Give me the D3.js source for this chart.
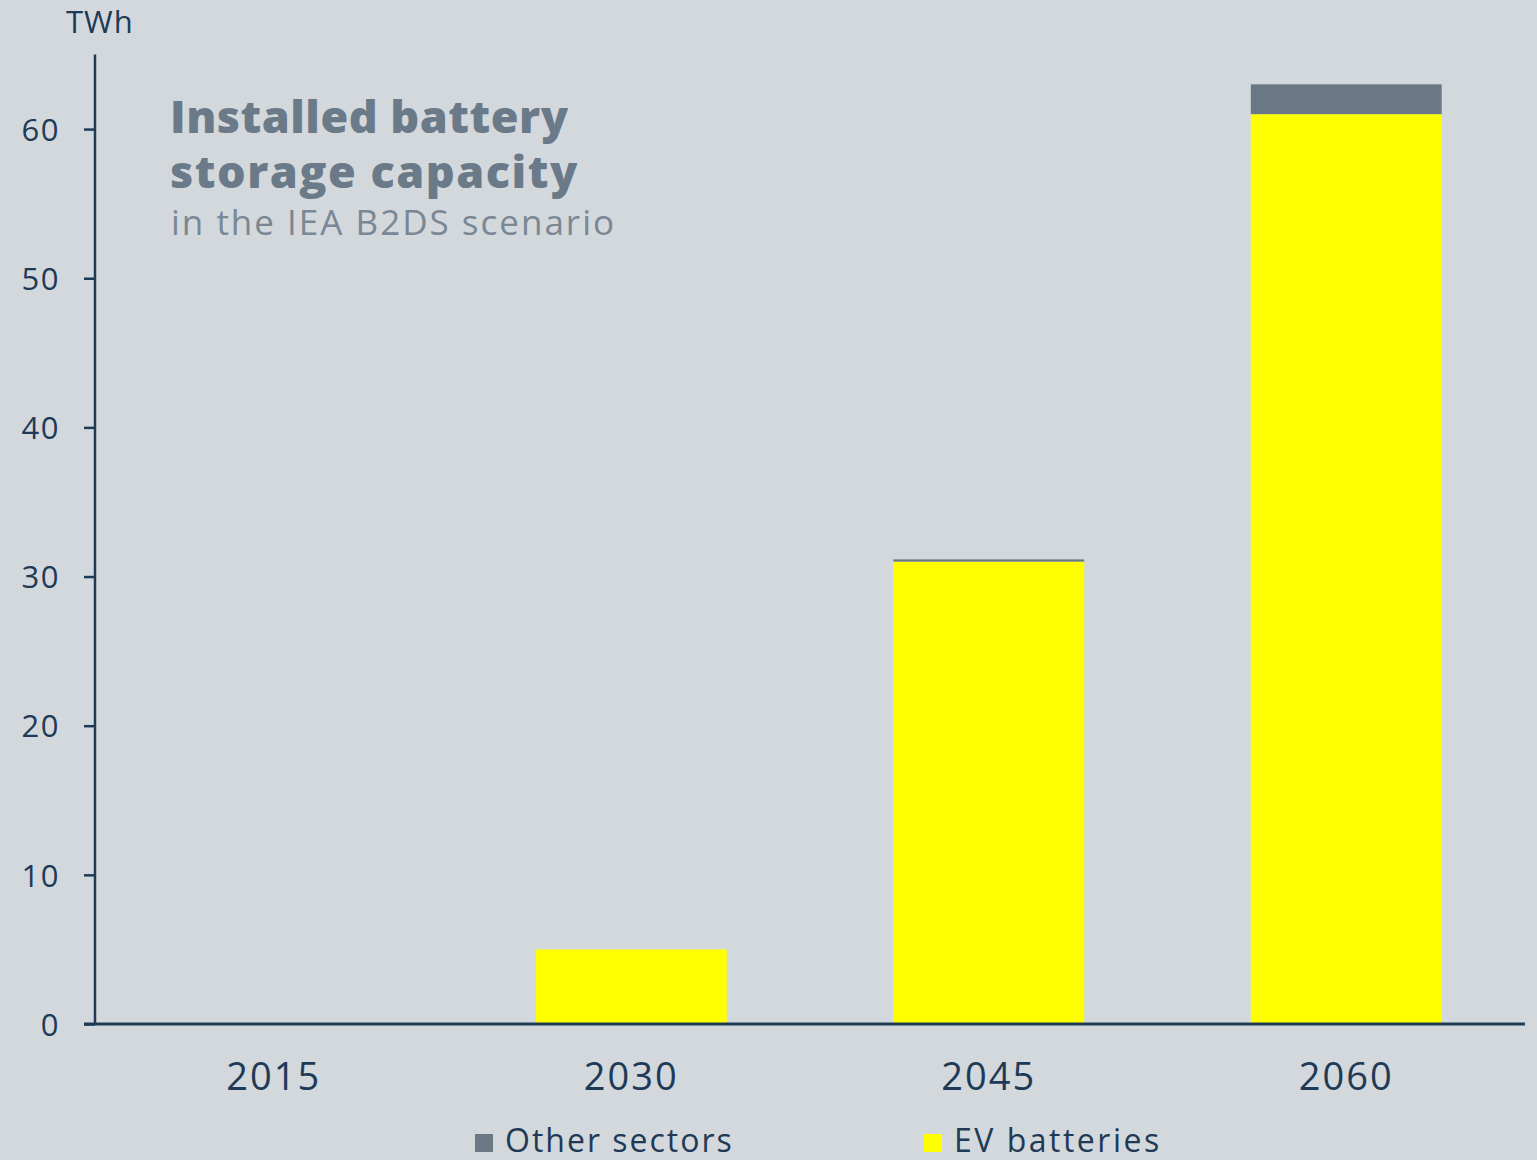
<!DOCTYPE html>
<html>
<head>
<meta charset="utf-8">
<script src="https://cdn.jsdelivr.net/npm/d3@7"></script>
<style>
  body { margin: 0; background: #d3d8dc; }
  svg { display: block; font-family: "Open Sans", Lato, sans-serif; }
</style>
</head>
<body>
<svg id="chart"></svg>
<script>
let years = ["2015", "2030", "2045", "2060"]
let evBatteries = [0, 5, 31, 61]
let otherSectors = [0, 0, 0.15, 2]
let yTicks = [0, 10, 20, 30, 40, 50, 60]
let seriesNames = ["Other sectors", "EV batteries"]
let seriesColors = ["#6a7886", "#ffff00"]

let width = 1537
let height = 1160
let axisColor = "#1e3a56"
let font = '"Open Sans", Lato, sans-serif'

let svg = d3.select('#chart')
  .attr('width', width)
  .attr('height', height)

svg.append('rect')
  .attr('width', width).attr('height', height)
  .attr('fill', '#d3d8dc')

let xScale = d3.scaleBand()
  .domain(years)
  .range([95, 1525])
  .paddingInner(0.466)
  .paddingOuter(0.233)

let yScale = d3.scaleLinear()
  .domain([0, 65])
  .range([1024, 54.5])

let rows = years.map((y, i) => ({ year: y, ev: evBatteries[i], other: otherSectors[i] }))

// EV batteries at the bottom
svg.selectAll('rect.ev')
  .data(rows)
  .enter()
  .append('rect')
  .attr('class', 'ev')
  .attr('x', d => xScale(d.year))
  .attr('width', xScale.bandwidth())
  .attr('y', d => yScale(d.ev))
  .attr('height', d => yScale(0) - yScale(d.ev))
  .attr('fill', seriesColors[1])

// other sectors stacked on top
svg.selectAll('rect.other')
  .data(rows.filter(d => d.other > 0))
  .enter()
  .append('rect')
  .attr('class', 'other')
  .attr('x', d => xScale(d.year))
  .attr('width', xScale.bandwidth())
  .attr('y', d => yScale(d.ev + d.other))
  .attr('height', d => Math.max(1, yScale(d.ev) - yScale(d.ev + d.other)))
  .attr('fill', seriesColors[0])

// y axis
let yAxis = d3.axisLeft(yScale)
  .tickValues(yTicks)
  .tickSize(11)
  .tickPadding(24)

let gy = svg.append('g')
  .attr('transform', 'translate(95, 0)')
  .call(yAxis)
  .attr('font-family', font)
gy.select('.domain').remove()
gy.selectAll('.tick line').attr('stroke', axisColor).attr('stroke-width', 2.5)
gy.selectAll('.tick text')
  .attr('fill', axisColor)
  .style('font-size', '31px')
  .style('letter-spacing', '1.5px')
  .attr('dy', '0.36em')

svg.append('line')
  .attr('x1', 95).attr('x2', 95)
  .attr('y1', yScale(65)).attr('y2', yScale(0))
  .attr('stroke', axisColor).attr('stroke-width', 2.5)

// x axis
let xAxis = d3.axisBottom(xScale)
  .tickSize(0)
  .tickPadding(39)

let gx = svg.append('g')
  .attr('transform', 'translate(0, 1024)')
  .call(xAxis)
  .attr('font-family', font)
gx.select('.domain').remove()
gx.selectAll('.tick text')
  .attr('fill', axisColor)
  .style('font-size', '38px')
  .style('letter-spacing', '2px')

svg.append('line')
  .attr('x1', 84).attr('x2', 1525)
  .attr('y1', 1024).attr('y2', 1024)
  .attr('stroke', axisColor).attr('stroke-width', 3)

// unit label
svg.append('text')
  .attr('x', 66).attr('y', 33)
  .attr('fill', axisColor)
  .style('font-size', '31px')
  .style('letter-spacing', '1px')
  .text('TWh')

// title
let title = svg.append('g').attr('fill', '#6b7a89')
title.append('text')
  .attr('x', 170).attr('y', 133)
  .style('font-size', '45px').style('font-weight', 800)
  .style('letter-spacing', '0.5px')
  .text('Installed battery')
title.append('text')
  .attr('x', 170).attr('y', 188)
  .style('font-size', '45px').style('font-weight', 800)
  .style('letter-spacing', '1.5px')
  .text('storage capacity')
title.append('text')
  .attr('x', 171).attr('y', 235)
  .style('font-size', '35px')
  .style('letter-spacing', '2px')
  .attr('fill', '#7a8794')
  .text('in the IEA B2DS scenario')

// legend
let legendX = [475, 924]
let legend = svg.selectAll('g.legend')
  .data(seriesNames)
  .enter()
  .append('g')
  .attr('class', 'legend')
  .attr('transform', (d, i) => 'translate(' + legendX[i] + ', 1134)')
legend.append('rect')
  .attr('width', 18).attr('height', 18)
  .attr('fill', (d, i) => seriesColors[i])
legend.append('text')
  .attr('x', 30).attr('y', 18)
  .attr('fill', axisColor)
  .style('font-size', '32px')
  .style('letter-spacing', (d, i) => i === 0 ? '2px' : '2.5px')
  .text(d => d)
</script>
</body>
</html>
